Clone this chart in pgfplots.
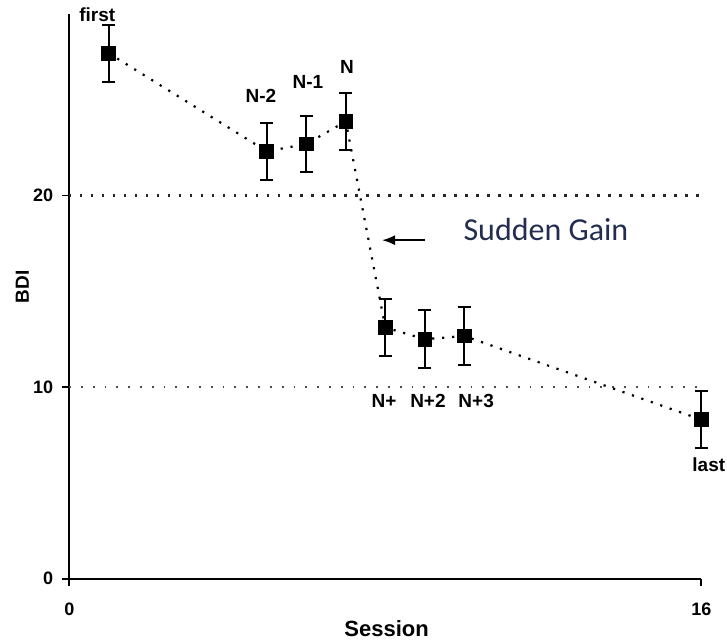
\documentclass[border=0pt]{standalone}
\usepackage{pgfplots}
\pgfplotsset{compat=1.18}
\usepackage{pgfplotstable}
\usepackage{fontspec}
\setmainfont{Liberation Sans}
\newfontfamily\calib{Carlito}
\usetikzlibrary{arrows.meta}
\definecolor{gaincol}{RGB}{35,45,80}
\pgfplotstableread{
x y e
1 27.43 1.5
5 22.31 1.5
6 22.69 1.48
7 23.87 1.5
8 13.11 1.5
9 12.50 1.5
10 12.67 1.5
16 8.30 1.5
}\bdidata
\begin{document}
\begin{tikzpicture}
\begin{axis}[
  scale only axis, width=316pt, height=282.5pt,
  xmin=0, xmax=16, ymin=0, ymax=29.5,
  axis lines=left, axis line style={-, line width=0.9pt},
  xtick={0,16}, ytick={0,10,20},
  tick align=outside, major tick length=3.5pt,
  tick style={black, line width=0.9pt},
  /pgf/number format/assume math mode=true,
  ticklabel style={font=\bfseries\fontsize{9}{10}\selectfont},
  xticklabel style={yshift=-5pt},
  yticklabel style={xshift=-1pt},
  xlabel={Session}, ylabel={BDI},
  every axis x label/.style={at={(axis description cs:0.502,-0.089)}, anchor=center, font=\bfseries\fontsize{11}{12}\selectfont},
  every axis y label/.style={at={(axis description cs:-0.0744,0.516)}, rotate=90, anchor=center, font=\bfseries\fontsize{9.5}{10}\selectfont},
  clip=false,
]
\addplot[black!85, line width=1.1pt, dash pattern=on 1.1pt off 4.4pt, forget plot] coordinates {(0,20) (16,20)};
\addplot[black!70, line width=0.9pt, dash pattern=on 0.9pt off 5pt, forget plot] coordinates {(0,10) (16,10)};
\addplot[black, line width=1.1pt, dash pattern=on 1.1pt off 3.9pt,
  mark=square*, mark size=3.1pt, mark options={solid},
  error bars/.cd, y dir=both, y explicit,
  error bar style={line width=1pt, solid},
  error mark options={rotate=90, mark size=3.3pt, line width=1pt, solid}]
  table[x=x, y=y, y error=e]{\bdidata};
\begin{scope}[every node/.style={font=\bfseries\fontsize{9.5}{10}\selectfont, inner sep=0pt}]
\node[anchor=base] at (axis cs:0.71,29.1) {first};
\node at (axis cs:4.85,25.2) {N-2};
\node at (axis cs:6.04,25.95) {N-1};
\node at (axis cs:7.03,26.72) {N};
\node at (axis cs:7.97,9.29) {N+};
\node at (axis cs:9.08,9.29) {N+2};
\node at (axis cs:10.3,9.29) {N+3};
\node at (axis cs:16.19,5.95) {last};
\end{scope}
\draw[-{Latex[length=6.5pt,width=5pt]}, line width=0.7pt] (axis cs:9.0,17.67) -- (axis cs:7.92,17.67);
\node[anchor=west, inner sep=0pt, text=gaincol, font=\calib\fontsize{16}{17}\selectfont] at (axis cs:9.97,18.23) {Sudden Gain};
\coordinate (bbsw) at (axis cs:-1.754,-3.28);
\coordinate (bbne) at (axis cs:16.65,30.21);
\end{axis}
\pgfresetboundingbox
\path[use as bounding box] (bbsw) rectangle (bbne);
\end{tikzpicture}
\end{document}
